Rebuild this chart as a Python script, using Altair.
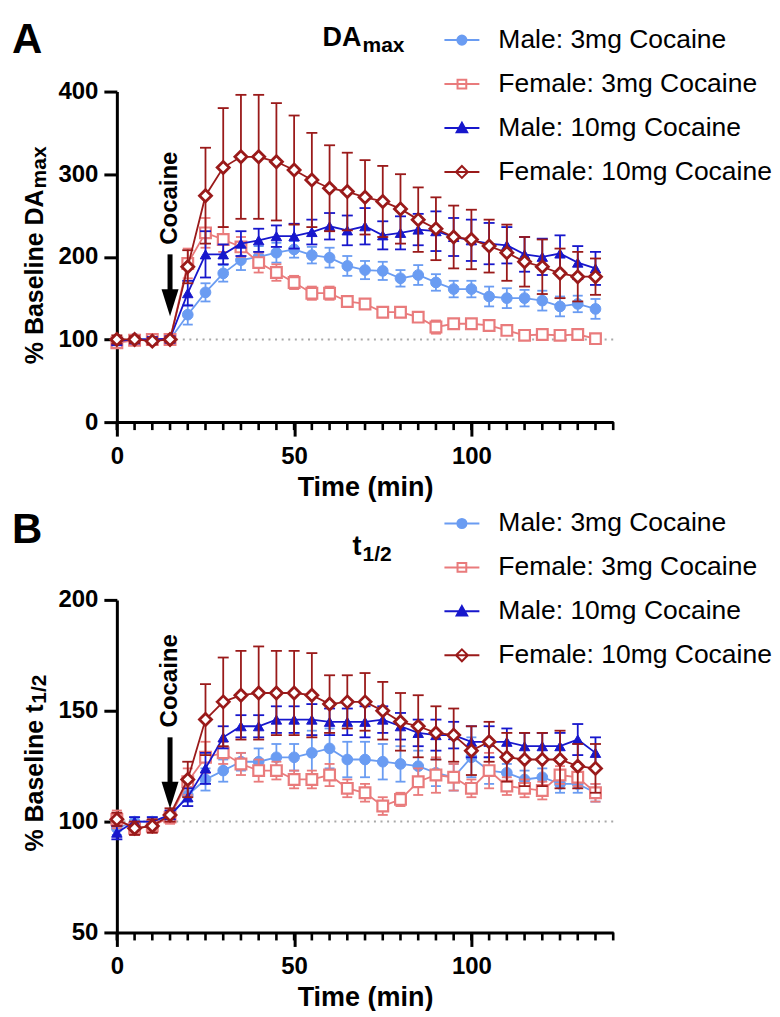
import altair as alt
import pandas as pd

FONT = "Liberation Sans"

TIME = list(range(0, 140, 5))          # sampling times (min)
MINOR_TICKS = list(range(0, 141, 5))   # minor x ticks
X_LABELS = [0, 50, 100]

SERIES = ["Male: 3mg Cocaine", "Female: 3mg Cocaine", "Male: 10mg Cocaine", "Female: 10mg Cocaine"]
COLORS = ["#6a9cf2", "#e97b7c", "#1717cc", "#9a1a1a"]
LEG_FILLS = ["#6a9cf2", "transparent", "#1717cc", "white"]

# ---- Panel A : DA max (% baseline) ----
A_M3 = [97, 101, 100, 100, 130, 157, 180, 196, 200, 205, 209, 202, 199, 189, 184, 183, 174, 178, 169, 161, 161, 152, 150, 150, 147, 140, 143, 137]
A_M3_E = [4, 3, 2, 2, 12, 11, 10, 12, 13, 12, 10, 10, 12, 12, 11, 11, 10, 12, 10, 10, 10, 12, 12, 10, 12, 12, 10, 12]
A_F3 = [96, 99, 100, 100, 192, 229, 221, 212, 193, 181, 169, 156, 156, 146, 143, 133, 133, 127, 115, 119, 119, 117, 111, 105, 106, 105, 106, 101]
A_F3_E = [5, 4, 3, 3, 18, 18, 15, 12, 12, 10, 8, 8, 8, 5, 5, 5, 5, 6, 8, 5, 5, 4, 4, 4, 4, 4, 4, 4]
A_M10 = [98, 100, 100, 101, 156, 203, 203, 216, 220, 225, 225, 230, 237, 232, 237, 226, 229, 233, 231, 224, 220, 216, 214, 203, 200, 204, 193, 186]
A_M10_E = [4, 3, 3, 3, 15, 28, 12, 15, 14, 13, 15, 15, 16, 18, 22, 17, 20, 19, 24, 23, 25, 25, 22, 21, 22, 22, 20, 20]
A_F10 = [100, 100, 98, 100, 188, 274, 308, 321, 321, 315, 305, 293, 283, 279, 272, 267, 258, 245, 234, 224, 221, 213, 205, 194, 188, 180, 176, 176]
A_F10_E = [5, 4, 4, 3, 20, 58, 72, 75, 75, 71, 66, 57, 52, 47, 45, 43, 42, 39, 38, 38, 36, 32, 34, 30, 33, 30, 30, 22]

# ---- Panel B : t1/2 (% baseline) ----
B_M3 = [97, 100, 100, 102, 112, 119, 123, 127, 127, 129, 129, 131, 133, 128, 128, 127, 126, 125, 122, 120, 129, 123, 122, 119, 120, 117, 117, 113]
B_M3_E = [3, 2, 2, 2, 3, 5, 5, 4, 6, 6, 6, 10, 9, 8, 8, 8, 8, 7, 6, 6, 9, 6, 4, 4, 4, 4, 4, 4]
B_F3 = [101, 97, 98, 102, 118, 129, 131, 126, 123, 123, 119, 119, 121, 115, 113, 107, 110, 118, 121, 120, 115, 123, 116, 115, 114, 121, 120, 113]
B_F3_E = [4, 3, 3, 3, 6, 7, 5, 5, 5, 4, 4, 4, 5, 4, 4, 4, 3, 6, 8, 6, 4, 8, 4, 4, 4, 4, 4, 4]
B_M10 = [95, 100, 100, 103, 111, 124, 138, 143, 143, 146, 146, 146, 145, 145, 145, 146, 143, 140, 139, 139, 136, 136, 136, 134, 134, 134, 137, 131]
B_M10_E = [3, 2, 2, 2, 4, 7, 5, 5, 5, 6, 6, 7, 6, 6, 7, 6, 6, 6, 7, 6, 7, 7, 6, 6, 6, 6, 7, 7]
B_F10 = [101, 97, 98, 103, 119, 146, 154, 157, 158, 158, 158, 157, 153, 154, 154, 150, 145, 143, 140, 139, 132, 136, 129, 128, 128, 128, 125, 124]
B_F10_E = [3, 3, 3, 3, 8, 16, 20, 20, 21, 19, 19, 19, 13, 12, 13, 13, 13, 14, 12, 12, 11, 9, 11, 12, 12, 13, 10, 11]

# marker styles per series
SHAPES = ["circle", "square", "triangle-up", "diamond"]
SIZES = [115, 115, 110, 145]
FILLS = ["#6a9cf2", "white", "#1717cc", "white"]
STROKE_W = [1, 2.2, 1, 2.8]
CAP_W = [10, 10, 11, 11]

# legend symbols: line + marker (unit space [-1, 1])
LEG_PATHS = [
    "M-1,0H1M0.26,0A0.26,0.26 0 1,1 -0.26,0A0.26,0.26 0 1,1 0.26,0Z",
    "M-1,0H1M-0.25,-0.25H0.25V0.25H-0.25Z",
    "M-1,0H1M0,-0.3L0.3,0.24L-0.3,0.24Z",
    "M-1,0H1M0,-0.34L0.34,0L0,0.34L-0.34,0Z",
]
ARROW_HEAD = "M-0.63,-1L0.63,-1L0,1Z"

W = 497


def build_df(means, errs):
    rows = []
    for name, m, e in zip(SERIES, means, errs):
        for t, v, s in zip(TIME, m, e):
            rows.append({"series": name, "t": t, "mean": v, "lo": v - s, "hi": v + s})
    return pd.DataFrame(rows)


def txt(text, x, y, size, align="left", angle=0, weight="bold"):
    kw = dict(text=text, font=FONT, fontSize=size, fontWeight=weight, align=align,
              baseline="alphabetic", color="black")
    if angle:
        kw["angle"] = angle
    return alt.Chart(pd.DataFrame({"k": [0]})).mark_text(**kw).encode(
        x=alt.value(x), y=alt.value(y))


def panel(means, errs, ydom, yticks, H, main_title, sub_title, ytitle_main, ytitle_sub,
          letter, letter_y, legend_y, coc_text_y, arrow_top, arrow_bot, head_y,
          title_y):
    df = build_df(means, errs)
    XS = alt.Scale(domain=[0, 140], nice=False, zero=False)
    YS = alt.Scale(domain=ydom, nice=False, zero=False)
    XA = alt.Axis(values=X_LABELS, title="Time (min)", grid=False, labelFlush=False)
    YA = alt.Axis(values=yticks, title=None, grid=False)

    def X(f):
        return alt.X(f, type="quantitative", scale=XS, axis=XA)

    def Y(f):
        return alt.Y(f, type="quantitative", scale=YS, axis=YA)

    layers = []
    # dotted baseline at 100 %
    layers.append(alt.Chart(pd.DataFrame({"k": [0]})).mark_rule(
        color="#a8a8a8", strokeWidth=2, strokeDash=[2, 4.6]).encode(
        x=alt.X(datum=0, type="quantitative", scale=XS, axis=XA),
        x2=alt.X2(datum=140),
        y=alt.Y(datum=100, type="quantitative", scale=YS, axis=YA)))
    # minor ticks
    layers.append(alt.Chart(pd.DataFrame({"m": MINOR_TICKS})).mark_rule(
        color="black", strokeWidth=2.6).encode(
        x=X("m"), y=alt.value(H), y2=alt.value(H + 8)))
    # series
    for i, name in enumerate(SERIES):
        c = COLORS[i]
        base = alt.Chart(df).transform_filter(alt.datum.series == name)
        layers.append(base.mark_rule(color=c, strokeWidth=1.8).encode(
            x=X("t"), y=Y("lo"), y2="hi"))
        layers.append(base.mark_tick(color=c, orient="horizontal", size=CAP_W[i],
                                     thickness=1.8, opacity=1).encode(x=X("t"), y=Y("lo")))
        layers.append(base.mark_tick(color=c, orient="horizontal", size=CAP_W[i],
                                     thickness=1.8, opacity=1).encode(x=X("t"), y=Y("hi")))
        layers.append(base.mark_line(color=c, strokeWidth=1.8).encode(
            x=X("t"), y=Y("mean")))
        layers.append(base.mark_point(shape=SHAPES[i], size=SIZES[i], fill=FILLS[i],
                                      stroke=c, strokeWidth=STROKE_W[i], opacity=1,
                                      filled=True).encode(x=X("t"), y=Y("mean")))
    # cocaine annotation
    k = pd.DataFrame({"k": [0]})
    layers.append(alt.Chart(k).mark_rule(color="black", strokeWidth=5).encode(
        x=alt.X(datum=15, type="quantitative", scale=XS, axis=XA),
        y=alt.Y(datum=arrow_top, type="quantitative", scale=YS, axis=YA),
        y2=alt.Y2(datum=arrow_bot)))
    layers.append(alt.Chart(k).mark_point(shape=ARROW_HEAD, size=729, filled=True,
                                          color="black", opacity=1).encode(
        x=alt.X(datum=15, type="quantitative", scale=XS, axis=XA),
        y=alt.Y(datum=head_y, type="quantitative", scale=YS, axis=YA)))
    layers.append(alt.Chart(k).mark_text(text="Cocaine", angle=270, font=FONT, fontSize=24,
                                         fontWeight="bold", align="center",
                                         baseline="middle", color="black").encode(
        x=alt.X(datum=15, type="quantitative", scale=XS, axis=XA),
        y=alt.Y(datum=coc_text_y, type="quantitative", scale=YS, axis=YA)))
    # titles and labels
    layers.append(txt(letter, -105, letter_y, 42))
    layers.append(txt(main_title, 245, title_y, 27, align="right"))
    layers.append(txt(sub_title, 246, title_y + 6, 21))
    layers.append(txt(ytitle_main[0], -74, ytitle_main[1], 25, angle=270))
    layers.append(txt(ytitle_sub[0], -71, ytitle_sub[1], 21, angle=270))
    # legend (symbols from scales)
    leg = alt.Legend(title=None, orient="none", legendX=327, legendY=legend_y,
                     labelFont=FONT, labelFontSize=26.5, labelColor="black",
                     labelLimit=400, symbolSize=1225, symbolStrokeWidth=2,
                     rowPadding=12, labelOffset=18, padding=0)
    layers.append(alt.Chart(pd.DataFrame({"series": SERIES})).mark_point(
        size=0, opacity=1, strokeWidth=2, filled=False).encode(
        x=alt.value(0), y=alt.value(0),
        shape=alt.Shape("series:N", scale=alt.Scale(domain=SERIES, range=LEG_PATHS), legend=leg),
        stroke=alt.Stroke("series:N", scale=alt.Scale(domain=SERIES, range=COLORS), legend=leg),
        fill=alt.Fill("series:N", scale=alt.Scale(domain=SERIES, range=LEG_FILLS), legend=leg)))
    return alt.layer(*layers).properties(width=W, height=H)


pA = panel([A_M3, A_F3, A_M10, A_F10], [A_M3_E, A_F3_E, A_M10_E, A_F10_E],
           [0, 400], [0, 100, 200, 300, 400], 331, "DA", "max",
           ("% Baseline DA", 273), ("max", 273 - 176), "A", -39, -70,
           271, 203, 152, 144.4, -46)
pB = panel([B_M3, B_F3, B_M10, B_F10], [B_M3_E, B_F3_E, B_M10_E, B_F10_E],
           [50, 200], [50, 100, 150, 200], 333, "t", "1/2",
           ("% Baseline t", 252), ("1/2", 252 - 148), "B", -57, -95,
           163.5, 138, 116, 111.9, -45)

chart = alt.vconcat(pA, pB, spacing=5).resolve_scale(
    x="independent", y="independent", shape="independent", stroke="independent",
    fill="independent").resolve_legend(shape="independent", stroke="independent",
                                       fill="independent").properties(
    padding={"left": 4, "top": 10, "right": 0, "bottom": 0}, background="white"
).configure_view(stroke=None).configure_axis(
    labelFont=FONT, labelFontSize=24, labelFontWeight="bold", labelColor="black",
    domainColor="black", domainWidth=3, tickColor="black", tickWidth=3,
    titleFont=FONT, titleFontSize=27, titleFontWeight="bold", titleColor="black"
).configure_axisX(tickSize=14, labelPadding=8, titlePadding=6
).configure_axisY(tickSize=13, labelPadding=6)

chart.save("out.html", embed_options={"renderer": "svg", "actions": False})
